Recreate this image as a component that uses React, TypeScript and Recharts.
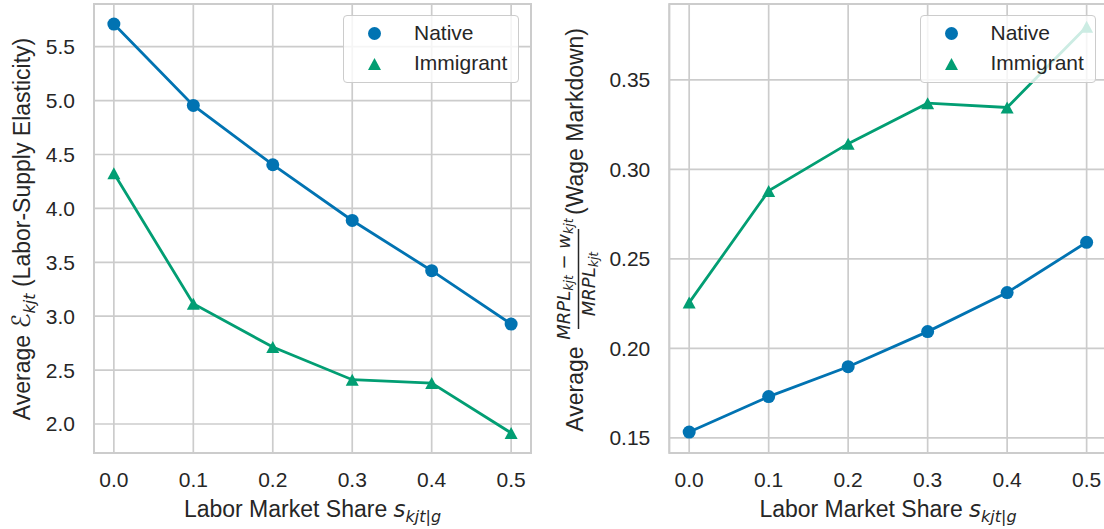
import { LineChart, Line, XAxis, YAxis, CartesianGrid, ReferenceArea } from 'recharts';

const shares = [0, 0.1, 0.2, 0.3, 0.4, 0.5];
const nativeElasticity = [5.71, 4.955, 4.405, 3.888, 3.422, 2.927];
const immigrantElasticity = [4.326, 3.115, 2.714, 2.411, 2.38, 1.917];
const nativeMarkdown = [0.1533, 0.1731, 0.1898, 0.2094, 0.2312, 0.2593];
const immigrantMarkdown = [0.2256, 0.288, 0.3144, 0.337, 0.3346, 0.3797];

const xTicks = [0, 0.1, 0.2, 0.3, 0.4, 0.5];
const elasticityTicks = [2.0, 2.5, 3.0, 3.5, 4.0, 4.5, 5.0, 5.5];
const markdownTicks = [0.15, 0.2, 0.25, 0.3, 0.35];

const xDomain: [number, number] = [-0.025, 0.525];
const elasticityDomain: [number, number] = [1.731, 5.896];
const markdownDomain: [number, number] = [0.1416, 0.3924];

const BLUE = '#0173b2';
const GREEN = '#029e73';
const GRID = '#cccccc';
const TEXT = '#262626';
const SANS = '"Liberation Sans", Arial, sans-serif';
const MATH = '"DejaVu Sans", sans-serif';

const elasticityData = shares.map((s, i) => ({
    share: s, native: nativeElasticity[i], immigrant: immigrantElasticity[i],
}));
const markdownData = shares.map((s, i) => ({
    share: s, native: nativeMarkdown[i], immigrant: immigrantMarkdown[i],
}));

const tickStyle = { fontSize: 21, fill: TEXT, fontFamily: SANS };

const circleDot = (props: any) => (
    <circle key={`c-${props.index}`} cx={props.cx} cy={props.cy} r={6.5} fill={BLUE} />
);
const triangleDot = (props: any) => {
    const { cx, cy, index } = props;
    return (
        <polygon
            key={`t-${index}`}
            points={`${cx},${cy - 6} ${cx - 6.5},${cy + 6} ${cx + 6.5},${cy + 6}`}
            fill={GREEN}
        />
    );
};

function Panel({ data, yDomain, yTicks, yWidth, width, marginRight, digits }: {
    data: any[]; yDomain: [number, number]; yTicks: number[]; yWidth: number;
    width: number; marginRight: number; digits: number;
}) {
    return (
        <LineChart width={width} height={529} data={data}
            margin={{ top: 4, right: marginRight, bottom: 0, left: 0 }}>
            <CartesianGrid stroke={GRID} strokeWidth={1.7} />
            <ReferenceArea x1={xDomain[0]} x2={xDomain[1]} y1={yDomain[0]} y2={yDomain[1]}
                fill="none" stroke={GRID} strokeWidth={2} fillOpacity={0} />
            <XAxis dataKey="share" type="number" domain={xDomain} ticks={xTicks}
                allowDataOverflow tickFormatter={(v: number) => v.toFixed(1)}
                tick={tickStyle} axisLine={false} tickLine={false} tickSize={0}
                tickMargin={19} height={76} />
            <YAxis type="number" domain={yDomain} ticks={yTicks} allowDataOverflow
                tickFormatter={(v: number) => v.toFixed(digits)}
                tick={tickStyle} axisLine={false} tickLine={false} tickSize={0}
                tickMargin={19} width={yWidth} />
            <Line type="linear" dataKey="native" stroke={BLUE} strokeWidth={2.8}
                dot={circleDot} activeDot={false} isAnimationActive={false} />
            <Line type="linear" dataKey="immigrant" stroke={GREEN} strokeWidth={2.8}
                dot={triangleDot} activeDot={false} isAnimationActive={false} />
        </LineChart>
    );
}

function LegendBox({ left }: { left: number }) {
    return (
        <div style={{
            position: 'absolute', left, top: 15, width: 176, height: 68,
            boxSizing: 'border-box', border: `1px solid ${GRID}`, borderRadius: 4,
            background: 'rgba(255,255,255,0.8)', fontFamily: SANS, fontSize: 21, color: TEXT,
        }}>
            <svg width={60} height={68} style={{ position: 'absolute', left: 0, top: 0 }}>
                <circle cx={30.5} cy={17.5} r={6.5} fill={BLUE} />
                <polygon points="30.5,42 24,54 37,54" fill={GREEN} />
            </svg>
            <div style={{ position: 'absolute', left: 70, top: 4, lineHeight: '26px' }}>Native</div>
            <div style={{ position: 'absolute', left: 70, top: 34, lineHeight: '26px' }}>Immigrant</div>
        </div>
    );
}

export default function App() {
    return (
        <div style={{
            position: 'absolute', left: 0, top: 0, width: 1104, height: 529,
            overflow: 'hidden', background: '#fff',
        }}>
            <div style={{ position: 'absolute', left: 0, top: 0 }}>
                <Panel data={elasticityData} yDomain={elasticityDomain} yTicks={elasticityTicks}
                    yWidth={94} width={550} marginRight={19} digits={1} />
            </div>
            <div style={{ position: 'absolute', left: 550, top: 0 }}>
                <Panel data={markdownData} yDomain={markdownDomain} yTicks={markdownTicks}
                    yWidth={119.3} width={560} marginRight={3.5} digits={2} />
            </div>
            <svg width={1104} height={529} style={{ position: 'absolute', left: 0, top: 0, pointerEvents: 'none' }}>
                {/* x labels */}
                {[312.5, 888].map((cx) => (
                    <text key={cx} x={cx} y={516.7} textAnchor="middle" fontSize={23}
                        fontFamily={SANS} fill={TEXT}>
                        {'Labor Market Share '}
                        <tspan fontFamily={MATH} fontStyle="italic">s</tspan>
                        <tspan fontFamily={MATH} fontStyle="italic" fontSize={16} dy={5}>kjt|g</tspan>
                    </text>
                ))}
                {/* left y label */}
                <text transform="rotate(-90)" x={-229} y={30} textAnchor="middle" fontSize={23}
                    fontFamily={SANS} fill={TEXT}>
                    {'Average '}
                    <tspan fontFamily={MATH} fontStyle="italic" fontSize={25}>ℰ</tspan>
                    <tspan fontFamily={MATH} fontStyle="italic" fontSize={16} dy={5}>kjt</tspan>
                    <tspan dy={-5}>{' (Labor-Supply Elasticity)'}</tspan>
                </text>
                {/* right y label */}
                <g transform="rotate(-90)" fill={TEXT}>
                    <text x={-431.7} y={583.3} fontSize={23} fontFamily={SANS}>Average</text>
                    <line x1={-329} x2={-229} y1={578.5} y2={578.5} stroke={TEXT} strokeWidth={1.5} />
                    <text x={-279} y={570} textAnchor="middle" fontSize={18} fontFamily={MATH} fontStyle="italic">
                        MRPL<tspan fontSize={12.5} dy={3}>kjt</tspan>
                        <tspan fontStyle="normal" dy={-3}>{' − '}</tspan>
                        w<tspan fontSize={12.5} dy={3}>kjt</tspan>
                    </text>
                    <text x={-284} y={595} textAnchor="middle" fontSize={18} fontFamily={MATH} fontStyle="italic">
                        MRPL<tspan fontSize={12.5} dy={3}>kjt</tspan>
                    </text>
                    <text x={-215} y={583.3} fontSize={23} fontFamily={SANS}>(Wage Markdown)</text>
                </g>
            </svg>
            <LegendBox left={343} />
            <LegendBox left={919.5} />
        </div>
    );
}
